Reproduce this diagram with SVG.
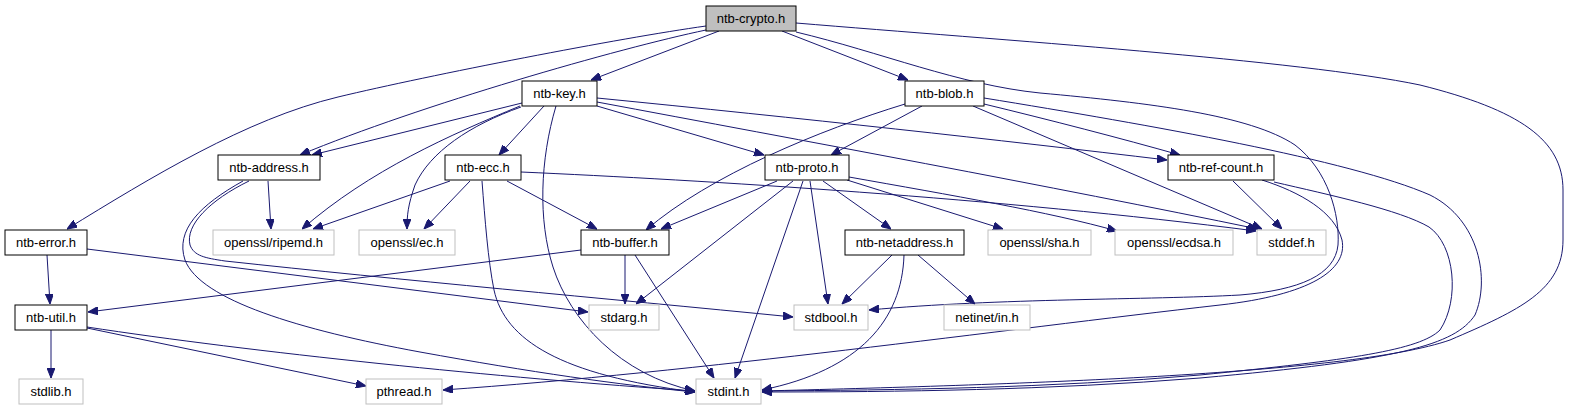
<svg xmlns="http://www.w3.org/2000/svg" width="1571" height="411" viewBox="0 0 1571 411">
<style>
.n rect{fill:#fff;stroke:#000;stroke-width:1}
.s rect{fill:#fff;stroke:#bfbfbf;stroke-width:1}
.root rect{fill:#bfbfbf;stroke:#000;stroke-width:1}
text{font-family:"Liberation Sans",Arial,Helvetica,sans-serif;font-size:13px;text-anchor:middle;fill:#000}
.e path{fill:none;stroke:#191970;stroke-width:1;marker-end:url(#arr)}
</style>
<defs>
<marker id="arr" viewBox="0 0 10 8" refX="10" refY="4" markerWidth="10" markerHeight="8" markerUnits="userSpaceOnUse" orient="auto">
<path d="M0,0 L10,4 L0,8 z" fill="#191970" stroke="#191970" stroke-width="1"/>
</marker>
</defs>
<rect width="1571" height="411" fill="#fff"/>
<g class="e" id="edges">
<!-- crypto -->
<path d="M706,26 C620,38 430,75 338,97 S150,178 67,229"/>
<path d="M706,30 C620,48 420,105 300,155"/>
<path d="M719,31 L591,80"/>
<path d="M782,31 L908,80"/>
<path d="M796,32 C880,52 960,85 1040,93 C1150,103 1250,115 1295,145 C1328,170 1340,215 1338,245 C1335,275 1300,290 1240,295 C1150,300 1000,298 869,310"/>
<path d="M796,23 C1000,40 1300,60 1420,85 C1520,110 1563,140 1563,190 L1563,240 C1563,290 1520,310 1450,340 C1350,375 1000,385 762,391"/>
<!-- key -->
<path d="M522,103 L312,155"/>
<path d="M520,106 C450,135 370,170 302,229"/>
<path d="M521,107 C470,125 430,152 415,185 C408,205 407,215 407,229"/>
<path d="M544,106 L499,155"/>
<path d="M556,106 C540,160 538,220 553,267 C570,320 620,375 695,391"/>
<path d="M597,106 L764,155"/>
<path d="M597,102 C800,140 1050,186 1258,229"/>
<path d="M597,98 C800,118 1000,140 1167,160"/>
<!-- blob -->
<path d="M905,104 C820,130 710,175 646,230"/>
<path d="M922,106 L831,155"/>
<path d="M984,104 C1050,120 1120,138 1180,155"/>
<path d="M973,106 L1262,229"/>
<path d="M984,98 C1150,125 1350,160 1430,195 C1480,220 1490,280 1475,315 C1455,345 1400,360 1200,378 C1050,390 900,392 762,392"/>
<!-- address -->
<path d="M268,181 L271,229"/>
<path d="M243,181 C200,205 175,230 185,260 C200,300 300,330 420,352 C530,372 620,385 695,392"/>
<path d="M249,181 C210,200 185,225 190,245 C194,256 205,258 225,261 C400,280 600,298 793,317"/>
<!-- ecc -->
<path d="M450,181 L313,229"/>
<path d="M470,181 L424,229"/>
<path d="M507,181 L597,229"/>
<path d="M482,181 C485,220 488,260 494,290 C505,340 560,375 695,392"/>
<path d="M521,172 C700,180 1000,198 1256,231"/>
<!-- proto -->
<path d="M777,181 L661,229"/>
<path d="M793,181 L636,304"/>
<path d="M803,181 L735,378"/>
<path d="M810,181 L828,304"/>
<path d="M823,181 L891,229"/>
<path d="M847,180 L1003,229"/>
<path d="M849,177 C950,195 1050,212 1117,231"/>
<!-- ref-count -->
<path d="M1233,181 L1282,229"/>
<path d="M1262,180 C1300,192 1335,212 1342,240 C1348,270 1310,295 1220,305 C1000,330 700,372 443,390"/>
<path d="M1274,182 C1330,195 1400,210 1429,227 C1455,245 1460,300 1440,330 C1420,350 1350,360 1200,375 C1050,388 900,390 762,391"/>
<!-- error -->
<path d="M47,255 L50,304"/>
<path d="M87,249 L588,312"/>
<!-- buffer -->
<path d="M581,250 L88,312"/>
<path d="M625,255 L625,304"/>
<path d="M635,255 L714,378"/>
<!-- netaddress -->
<path d="M892,255 L842,304"/>
<path d="M918,255 L975,304"/>
<path d="M904,255 C902,320 860,370 762,390"/>
<!-- util -->
<path d="M51,330 L51,378"/>
<path d="M87,328 L366,386"/>
<path d="M87,327 C250,352 500,378 695,391"/>
</g>
<g id="ntb-crypto" class="root"><rect x="706" y="6" width="90" height="25"/><text x="751" y="23">ntb-crypto.h</text></g>
<g id="ntb-key" class="n"><rect x="522" y="81" width="75" height="25"/><text x="559.5" y="98">ntb-key.h</text></g>
<g id="ntb-blob" class="n"><rect x="905" y="81" width="79" height="25"/><text x="944.5" y="98">ntb-blob.h</text></g>
<g id="ntb-address" class="n"><rect x="218" y="155" width="102" height="25"/><text x="269" y="172">ntb-address.h</text></g>
<g id="ntb-ecc" class="n"><rect x="445" y="155" width="76" height="25"/><text x="483" y="172">ntb-ecc.h</text></g>
<g id="ntb-proto" class="n"><rect x="765" y="155" width="84" height="25"/><text x="807" y="172">ntb-proto.h</text></g>
<g id="ntb-ref-count" class="n"><rect x="1168" y="155" width="106" height="25"/><text x="1221" y="172">ntb-ref-count.h</text></g>
<g id="ntb-error" class="n"><rect x="5" y="230" width="82" height="25"/><text x="46" y="247">ntb-error.h</text></g>
<g id="openssl-ripemd" class="s"><rect x="213" y="230" width="121" height="25"/><text x="273.5" y="247">openssl/ripemd.h</text></g>
<g id="openssl-ec" class="s"><rect x="359" y="230" width="96" height="25"/><text x="407" y="247">openssl/ec.h</text></g>
<g id="ntb-buffer" class="n"><rect x="581" y="230" width="88" height="25"/><text x="625" y="247">ntb-buffer.h</text></g>
<g id="ntb-netaddress" class="n"><rect x="845" y="230" width="119" height="25"/><text x="904.5" y="247">ntb-netaddress.h</text></g>
<g id="openssl-sha" class="s"><rect x="988" y="230" width="103" height="25"/><text x="1039.5" y="247">openssl/sha.h</text></g>
<g id="openssl-ecdsa" class="s"><rect x="1115" y="230" width="118" height="25"/><text x="1174" y="247">openssl/ecdsa.h</text></g>
<g id="stddef" class="s"><rect x="1257" y="230" width="69" height="25"/><text x="1291.5" y="247">stddef.h</text></g>
<g id="ntb-util" class="n"><rect x="15" y="305" width="72" height="25"/><text x="51" y="322">ntb-util.h</text></g>
<g id="stdarg" class="s"><rect x="589" y="305" width="70" height="25"/><text x="624" y="322">stdarg.h</text></g>
<g id="stdbool" class="s"><rect x="794" y="305" width="74" height="25"/><text x="831" y="322">stdbool.h</text></g>
<g id="netinet-in" class="s"><rect x="944" y="305" width="86" height="25"/><text x="987" y="322">netinet/in.h</text></g>
<g id="stdlib" class="s"><rect x="19" y="379" width="64" height="25"/><text x="51" y="396">stdlib.h</text></g>
<g id="pthread" class="s"><rect x="366" y="379" width="76" height="25"/><text x="404" y="396">pthread.h</text></g>
<g id="stdint" class="s"><rect x="696" y="379" width="65" height="25"/><text x="728.5" y="396">stdint.h</text></g>
</svg>
